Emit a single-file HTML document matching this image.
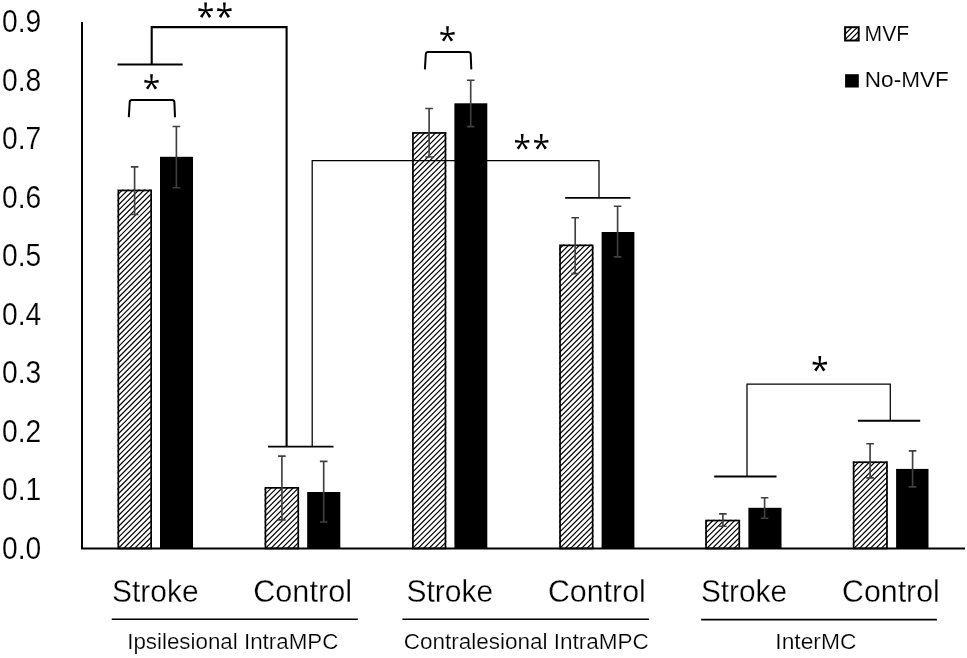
<!DOCTYPE html>
<html><head><meta charset="utf-8"><title>chart</title>
<style>
html,body{margin:0;padding:0;background:#fff;}
body{width:967px;height:658px;overflow:hidden;}
svg{display:block;filter:grayscale(1);}
text{font-family:"Liberation Sans",sans-serif;fill:#000;}
</style></head><body>
<svg width="967" height="658" viewBox="0 0 967 658">
<defs>
<path id="ast" d="M0.75,0.00L1.40,-8.00L-1.40,-8.00L-0.75,-0.00ZM0.10,0.74L7.32,0.38L6.94,-2.39L-0.10,-0.74ZM0.10,-0.74L-6.94,-2.39L-7.32,0.38L-0.10,0.74ZM-0.62,0.42L3.31,7.42L5.63,5.85L0.62,-0.42ZM-0.62,-0.42L-5.63,5.85L-3.31,7.42L0.62,0.42Z" fill="#000" stroke="none"/>
</defs>
<rect width="967" height="658" fill="#fff"/>
<clipPath id="hc"><rect x="117.50" y="189.60" width="34.50" height="358.85"/><rect x="264.60" y="487.00" width="34.50" height="61.45"/><rect x="412.10" y="132.10" width="34.20" height="416.35"/><rect x="559.20" y="244.50" width="34.30" height="303.95"/><rect x="705.20" y="519.70" width="34.90" height="28.75"/><rect x="852.80" y="461.40" width="35.00" height="87.05"/><rect x="845.1" y="27.2" width="13.6" height="13.3"/></clipPath>
<path clip-path="url(#hc)" d="M116.50,190.45 L153.00,153.95M116.50,195.90 L153.00,159.40M116.50,201.35 L153.00,164.85M116.50,206.80 L153.00,170.30M116.50,212.25 L153.00,175.75M116.50,217.70 L153.00,181.20M116.50,223.15 L153.00,186.65M116.50,228.60 L153.00,192.10M116.50,234.05 L153.00,197.55M116.50,239.50 L153.00,203.00M116.50,244.95 L153.00,208.45M116.50,250.40 L153.00,213.90M116.50,255.85 L153.00,219.35M116.50,261.30 L153.00,224.80M116.50,266.75 L153.00,230.25M116.50,272.20 L153.00,235.70M116.50,277.65 L153.00,241.15M116.50,283.10 L153.00,246.60M116.50,288.55 L153.00,252.05M116.50,294.00 L153.00,257.50M116.50,299.45 L153.00,262.95M116.50,304.90 L153.00,268.40M116.50,310.35 L153.00,273.85M116.50,315.80 L153.00,279.30M116.50,321.25 L153.00,284.75M116.50,326.70 L153.00,290.20M116.50,332.15 L153.00,295.65M116.50,337.60 L153.00,301.10M116.50,343.05 L153.00,306.55M116.50,348.50 L153.00,312.00M116.50,353.95 L153.00,317.45M116.50,359.40 L153.00,322.90M116.50,364.85 L153.00,328.35M116.50,370.30 L153.00,333.80M116.50,375.75 L153.00,339.25M116.50,381.20 L153.00,344.70M116.50,386.65 L153.00,350.15M116.50,392.10 L153.00,355.60M116.50,397.55 L153.00,361.05M116.50,403.00 L153.00,366.50M116.50,408.45 L153.00,371.95M116.50,413.90 L153.00,377.40M116.50,419.35 L153.00,382.85M116.50,424.80 L153.00,388.30M116.50,430.25 L153.00,393.75M116.50,435.70 L153.00,399.20M116.50,441.15 L153.00,404.65M116.50,446.60 L153.00,410.10M116.50,452.05 L153.00,415.55M116.50,457.50 L153.00,421.00M116.50,462.95 L153.00,426.45M116.50,468.40 L153.00,431.90M116.50,473.85 L153.00,437.35M116.50,479.30 L153.00,442.80M116.50,484.75 L153.00,448.25M116.50,490.20 L153.00,453.70M116.50,495.65 L153.00,459.15M116.50,501.10 L153.00,464.60M116.50,506.55 L153.00,470.05M116.50,512.00 L153.00,475.50M116.50,517.45 L153.00,480.95M116.50,522.90 L153.00,486.40M116.50,528.35 L153.00,491.85M116.50,533.80 L153.00,497.30M116.50,539.25 L153.00,502.75M116.50,544.70 L153.00,508.20M116.50,550.15 L153.00,513.65M116.50,555.60 L153.00,519.10M116.50,561.05 L153.00,524.55M116.50,566.50 L153.00,530.00M116.50,571.95 L153.00,535.45M116.50,577.40 L153.00,540.90M116.50,582.85 L153.00,546.35M116.50,588.30 L153.00,551.80M263.60,484.80 L300.10,448.30M263.60,490.25 L300.10,453.75M263.60,495.70 L300.10,459.20M263.60,501.15 L300.10,464.65M263.60,506.60 L300.10,470.10M263.60,512.05 L300.10,475.55M263.60,517.50 L300.10,481.00M263.60,522.95 L300.10,486.45M263.60,528.40 L300.10,491.90M263.60,533.85 L300.10,497.35M263.60,539.30 L300.10,502.80M263.60,544.75 L300.10,508.25M263.60,550.20 L300.10,513.70M263.60,555.65 L300.10,519.15M263.60,561.10 L300.10,524.60M263.60,566.55 L300.10,530.05M263.60,572.00 L300.10,535.50M263.60,577.45 L300.10,540.95M263.60,582.90 L300.10,546.40M263.60,588.35 L300.10,551.85M411.10,130.20 L447.30,94.00M411.10,135.65 L447.30,99.45M411.10,141.10 L447.30,104.90M411.10,146.55 L447.30,110.35M411.10,152.00 L447.30,115.80M411.10,157.45 L447.30,121.25M411.10,162.90 L447.30,126.70M411.10,168.35 L447.30,132.15M411.10,173.80 L447.30,137.60M411.10,179.25 L447.30,143.05M411.10,184.70 L447.30,148.50M411.10,190.15 L447.30,153.95M411.10,195.60 L447.30,159.40M411.10,201.05 L447.30,164.85M411.10,206.50 L447.30,170.30M411.10,211.95 L447.30,175.75M411.10,217.40 L447.30,181.20M411.10,222.85 L447.30,186.65M411.10,228.30 L447.30,192.10M411.10,233.75 L447.30,197.55M411.10,239.20 L447.30,203.00M411.10,244.65 L447.30,208.45M411.10,250.10 L447.30,213.90M411.10,255.55 L447.30,219.35M411.10,261.00 L447.30,224.80M411.10,266.45 L447.30,230.25M411.10,271.90 L447.30,235.70M411.10,277.35 L447.30,241.15M411.10,282.80 L447.30,246.60M411.10,288.25 L447.30,252.05M411.10,293.70 L447.30,257.50M411.10,299.15 L447.30,262.95M411.10,304.60 L447.30,268.40M411.10,310.05 L447.30,273.85M411.10,315.50 L447.30,279.30M411.10,320.95 L447.30,284.75M411.10,326.40 L447.30,290.20M411.10,331.85 L447.30,295.65M411.10,337.30 L447.30,301.10M411.10,342.75 L447.30,306.55M411.10,348.20 L447.30,312.00M411.10,353.65 L447.30,317.45M411.10,359.10 L447.30,322.90M411.10,364.55 L447.30,328.35M411.10,370.00 L447.30,333.80M411.10,375.45 L447.30,339.25M411.10,380.90 L447.30,344.70M411.10,386.35 L447.30,350.15M411.10,391.80 L447.30,355.60M411.10,397.25 L447.30,361.05M411.10,402.70 L447.30,366.50M411.10,408.15 L447.30,371.95M411.10,413.60 L447.30,377.40M411.10,419.05 L447.30,382.85M411.10,424.50 L447.30,388.30M411.10,429.95 L447.30,393.75M411.10,435.40 L447.30,399.20M411.10,440.85 L447.30,404.65M411.10,446.30 L447.30,410.10M411.10,451.75 L447.30,415.55M411.10,457.20 L447.30,421.00M411.10,462.65 L447.30,426.45M411.10,468.10 L447.30,431.90M411.10,473.55 L447.30,437.35M411.10,479.00 L447.30,442.80M411.10,484.45 L447.30,448.25M411.10,489.90 L447.30,453.70M411.10,495.35 L447.30,459.15M411.10,500.80 L447.30,464.60M411.10,506.25 L447.30,470.05M411.10,511.70 L447.30,475.50M411.10,517.15 L447.30,480.95M411.10,522.60 L447.30,486.40M411.10,528.05 L447.30,491.85M411.10,533.50 L447.30,497.30M411.10,538.95 L447.30,502.75M411.10,544.40 L447.30,508.20M411.10,549.85 L447.30,513.65M411.10,555.30 L447.30,519.10M411.10,560.75 L447.30,524.55M411.10,566.20 L447.30,530.00M411.10,571.65 L447.30,535.45M411.10,577.10 L447.30,540.90M411.10,582.55 L447.30,546.35M411.10,588.00 L447.30,551.80M558.20,244.70 L594.50,208.40M558.20,250.15 L594.50,213.85M558.20,255.60 L594.50,219.30M558.20,261.05 L594.50,224.75M558.20,266.50 L594.50,230.20M558.20,271.95 L594.50,235.65M558.20,277.40 L594.50,241.10M558.20,282.85 L594.50,246.55M558.20,288.30 L594.50,252.00M558.20,293.75 L594.50,257.45M558.20,299.20 L594.50,262.90M558.20,304.65 L594.50,268.35M558.20,310.10 L594.50,273.80M558.20,315.55 L594.50,279.25M558.20,321.00 L594.50,284.70M558.20,326.45 L594.50,290.15M558.20,331.90 L594.50,295.60M558.20,337.35 L594.50,301.05M558.20,342.80 L594.50,306.50M558.20,348.25 L594.50,311.95M558.20,353.70 L594.50,317.40M558.20,359.15 L594.50,322.85M558.20,364.60 L594.50,328.30M558.20,370.05 L594.50,333.75M558.20,375.50 L594.50,339.20M558.20,380.95 L594.50,344.65M558.20,386.40 L594.50,350.10M558.20,391.85 L594.50,355.55M558.20,397.30 L594.50,361.00M558.20,402.75 L594.50,366.45M558.20,408.20 L594.50,371.90M558.20,413.65 L594.50,377.35M558.20,419.10 L594.50,382.80M558.20,424.55 L594.50,388.25M558.20,430.00 L594.50,393.70M558.20,435.45 L594.50,399.15M558.20,440.90 L594.50,404.60M558.20,446.35 L594.50,410.05M558.20,451.80 L594.50,415.50M558.20,457.25 L594.50,420.95M558.20,462.70 L594.50,426.40M558.20,468.15 L594.50,431.85M558.20,473.60 L594.50,437.30M558.20,479.05 L594.50,442.75M558.20,484.50 L594.50,448.20M558.20,489.95 L594.50,453.65M558.20,495.40 L594.50,459.10M558.20,500.85 L594.50,464.55M558.20,506.30 L594.50,470.00M558.20,511.75 L594.50,475.45M558.20,517.20 L594.50,480.90M558.20,522.65 L594.50,486.35M558.20,528.10 L594.50,491.80M558.20,533.55 L594.50,497.25M558.20,539.00 L594.50,502.70M558.20,544.45 L594.50,508.15M558.20,549.90 L594.50,513.60M558.20,555.35 L594.50,519.05M558.20,560.80 L594.50,524.50M558.20,566.25 L594.50,529.95M558.20,571.70 L594.50,535.40M558.20,577.15 L594.50,540.85M558.20,582.60 L594.50,546.30M558.20,588.05 L594.50,551.75M704.20,518.35 L741.10,481.45M704.20,523.80 L741.10,486.90M704.20,529.25 L741.10,492.35M704.20,534.70 L741.10,497.80M704.20,540.15 L741.10,503.25M704.20,545.60 L741.10,508.70M704.20,551.05 L741.10,514.15M704.20,556.50 L741.10,519.60M704.20,561.95 L741.10,525.05M704.20,567.40 L741.10,530.50M704.20,572.85 L741.10,535.95M704.20,578.30 L741.10,541.40M704.20,583.75 L741.10,546.85M704.20,589.20 L741.10,552.30M851.80,457.95 L888.80,420.95M851.80,463.40 L888.80,426.40M851.80,468.85 L888.80,431.85M851.80,474.30 L888.80,437.30M851.80,479.75 L888.80,442.75M851.80,485.20 L888.80,448.20M851.80,490.65 L888.80,453.65M851.80,496.10 L888.80,459.10M851.80,501.55 L888.80,464.55M851.80,507.00 L888.80,470.00M851.80,512.45 L888.80,475.45M851.80,517.90 L888.80,480.90M851.80,523.35 L888.80,486.35M851.80,528.80 L888.80,491.80M851.80,534.25 L888.80,497.25M851.80,539.70 L888.80,502.70M851.80,545.15 L888.80,508.15M851.80,550.60 L888.80,513.60M851.80,556.05 L888.80,519.05M851.80,561.50 L888.80,524.50M851.80,566.95 L888.80,529.95M851.80,572.40 L888.80,535.40M851.80,577.85 L888.80,540.85M851.80,583.30 L888.80,546.30M851.80,588.75 L888.80,551.75M844.10,24.20 L859.70,8.60M844.10,29.65 L859.70,14.05M844.10,35.10 L859.70,19.50M844.10,40.55 L859.70,24.95M844.10,46.00 L859.70,30.40M844.10,51.45 L859.70,35.85M844.10,56.90 L859.70,41.30" stroke="#000" stroke-width="1.2" fill="none"/>
<g>
<rect x="118.35" y="190.45" width="32.80" height="358.00" fill="none" stroke="#000" stroke-width="1.7"/>
<rect x="160.00" y="156.80" width="33.00" height="391.65" fill="#000"/>
<rect x="265.45" y="487.85" width="32.80" height="60.60" fill="none" stroke="#000" stroke-width="1.7"/>
<rect x="307.20" y="492.00" width="33.10" height="56.45" fill="#000"/>
<rect x="412.95" y="132.95" width="32.50" height="415.50" fill="none" stroke="#000" stroke-width="1.7"/>
<rect x="454.40" y="103.30" width="32.90" height="445.15" fill="#000"/>
<rect x="560.05" y="245.35" width="32.60" height="303.10" fill="none" stroke="#000" stroke-width="1.7"/>
<rect x="601.60" y="232.00" width="32.80" height="316.45" fill="#000"/>
<rect x="706.05" y="520.55" width="33.20" height="27.90" fill="none" stroke="#000" stroke-width="1.7"/>
<rect x="748.40" y="507.80" width="33.10" height="40.65" fill="#000"/>
<rect x="853.65" y="462.25" width="33.30" height="86.20" fill="none" stroke="#000" stroke-width="1.7"/>
<rect x="896.10" y="468.90" width="32.40" height="79.55" fill="#000"/>
</g>
<path d="M82.0,22 L82.0,548.5 L965,548.5" fill="none" stroke="#000" stroke-width="2.0"/>
<g stroke="#404040" stroke-width="1.65" fill="none">
<path d="M134.6,166.9 V214.5 M130.8,166.9 H138.4 M130.8,214.5 H138.4"/>
<path d="M176.4,126.5 V187.7 M172.6,126.5 H180.2 M172.6,187.7 H180.2"/>
<path d="M281.9,456.1 V519.8 M278.1,456.1 H285.7 M278.1,519.8 H285.7"/>
<path d="M323.7,461.4 V522.0 M319.9,461.4 H327.5 M319.9,522.0 H327.5"/>
<path d="M429.1,108.5 V157.0 M425.3,108.5 H432.9 M425.3,157.0 H432.9"/>
<path d="M470.7,80.2 V126.6 M466.9,80.2 H474.5 M466.9,126.6 H474.5"/>
<path d="M575.2,217.7 V273.6 M571.4,217.7 H579.0 M571.4,273.6 H579.0"/>
<path d="M617.6,206.2 V256.8 M613.8,206.2 H621.4 M613.8,256.8 H621.4"/>
<path d="M722.9,513.9 V526.2 M719.1,513.9 H726.7 M719.1,526.2 H726.7"/>
<path d="M764.6,497.7 V518.2 M760.8,497.7 H768.4 M760.8,518.2 H768.4"/>
<path d="M870.1,443.7 V477.9 M866.3,443.7 H873.9 M866.3,477.9 H873.9"/>
<path d="M912.6,450.9 V486.9 M908.8,450.9 H916.4 M908.8,486.9 H916.4"/>
</g>
<g stroke="#000" fill="none">
<path d="M117.5,64.4 H182.7" stroke-width="2"/>
<path d="M151.7,64.4 V27.1 H286.6 V446.6" stroke-width="2.1"/>
<path d="M268,446.6 H333.5" stroke-width="1.9"/>
<path d="M312.2,446.6 V160.6 H599 V197.9" stroke-width="1.25" stroke="#000"/>
<path d="M565.2,197.9 H630.4" stroke-width="1.9"/>
<path d="M747,476.5 V384 H890.3 V420.7" stroke-width="1.25" stroke="#000"/>
<path d="M714.2,476.5 H776.5" stroke-width="1.9"/>
<path d="M857.9,420.7 H920.2" stroke-width="1.9"/>
<path d="M128.8,117.3 L129.7,102.2 Q129.8,100 132,100 L172,100 Q174.3,100 174.4,102.2 L175,117.3" stroke-width="2"/>
<path d="M424.9,69.4 L425.8,54.2 Q425.9,52 428.1,52 L468.3,52 Q470.6,52 470.7,54.2 L471.3,69.4" stroke-width="2"/>
</g>
<use href="#ast" x="205.6" y="10.5"/>
<use href="#ast" x="224.4" y="10.5"/>
<use href="#ast" x="151.5" y="82.2"/>
<use href="#ast" x="447.5" y="34.2"/>
<use href="#ast" x="522.2" y="142.1"/>
<use href="#ast" x="541.3" y="142.1"/>
<use href="#ast" x="819.8" y="364.0"/>
<text x="2.0" y="32.0" font-size="31.2" textLength="39.2" stroke="#fff" stroke-width="0.15" lengthAdjust="spacingAndGlyphs">0.9</text>
<text x="2.0" y="90.5" font-size="31.2" textLength="39.2" stroke="#fff" stroke-width="0.15" lengthAdjust="spacingAndGlyphs">0.8</text>
<text x="2.0" y="149.1" font-size="31.2" textLength="39.2" stroke="#fff" stroke-width="0.15" lengthAdjust="spacingAndGlyphs">0.7</text>
<text x="2.0" y="207.6" font-size="31.2" textLength="39.2" stroke="#fff" stroke-width="0.15" lengthAdjust="spacingAndGlyphs">0.6</text>
<text x="2.0" y="266.2" font-size="31.2" textLength="39.2" stroke="#fff" stroke-width="0.15" lengthAdjust="spacingAndGlyphs">0.5</text>
<text x="2.0" y="324.8" font-size="31.2" textLength="39.2" stroke="#fff" stroke-width="0.15" lengthAdjust="spacingAndGlyphs">0.4</text>
<text x="2.0" y="383.3" font-size="31.2" textLength="39.2" stroke="#fff" stroke-width="0.15" lengthAdjust="spacingAndGlyphs">0.3</text>
<text x="2.0" y="441.8" font-size="31.2" textLength="39.2" stroke="#fff" stroke-width="0.15" lengthAdjust="spacingAndGlyphs">0.2</text>
<text x="2.0" y="500.4" font-size="31.2" textLength="39.2" stroke="#fff" stroke-width="0.15" lengthAdjust="spacingAndGlyphs">0.1</text>
<text x="2.0" y="558.9" font-size="31.2" textLength="39.2" stroke="#fff" stroke-width="0.15" lengthAdjust="spacingAndGlyphs">0.0</text>
<text x="112.1" y="602.0" font-size="31" textLength="86.5" lengthAdjust="spacingAndGlyphs" stroke="#fff" stroke-width="0.30">Stroke</text>
<text x="253.2" y="602.0" font-size="31" textLength="98.8" lengthAdjust="spacingAndGlyphs" stroke="#fff" stroke-width="0.30">Control</text>
<text x="406.5" y="602.0" font-size="31" textLength="86.6" lengthAdjust="spacingAndGlyphs" stroke="#fff" stroke-width="0.30">Stroke</text>
<text x="547.9" y="602.0" font-size="31" textLength="97.9" lengthAdjust="spacingAndGlyphs" stroke="#fff" stroke-width="0.30">Control</text>
<text x="700.9" y="602.0" font-size="31" textLength="86.2" lengthAdjust="spacingAndGlyphs" stroke="#fff" stroke-width="0.30">Stroke</text>
<text x="842.0" y="602.0" font-size="31" textLength="97.8" lengthAdjust="spacingAndGlyphs" stroke="#fff" stroke-width="0.30">Control</text>
<g stroke="#000" stroke-width="1.6">
<path d="M111.7,619.3 H357.8"/>
<path d="M402.4,619.3 H649.1"/>
<path d="M701.1,619.6 H936.9"/>
</g>
<text x="127.2" y="649.4" font-size="22" textLength="211.2" lengthAdjust="spacingAndGlyphs" stroke="#fff" stroke-width="0.20">Ipsilesional IntraMPC</text>
<text x="403.7" y="649.4" font-size="22" textLength="245.2" lengthAdjust="spacingAndGlyphs" stroke="#fff" stroke-width="0.20">Contralesional IntraMPC</text>
<text x="775.3" y="649.4" font-size="22" textLength="81.1" lengthAdjust="spacingAndGlyphs" stroke="#fff" stroke-width="0.20">InterMC</text>
<rect x="845.1" y="27.2" width="13.6" height="13.3" fill="none" stroke="#000" stroke-width="2"/>
<rect x="845.1" y="74.2" width="13.7" height="13.3" fill="#000"/>
<text x="864.6" y="41.3" font-size="22" textLength="44.6" lengthAdjust="spacingAndGlyphs" stroke="#fff" stroke-width="0.10">MVF</text>
<text x="864.8" y="86.9" font-size="22" textLength="84.0" lengthAdjust="spacingAndGlyphs" stroke="#fff" stroke-width="0.10">No-MVF</text>
</svg>
</body></html>
